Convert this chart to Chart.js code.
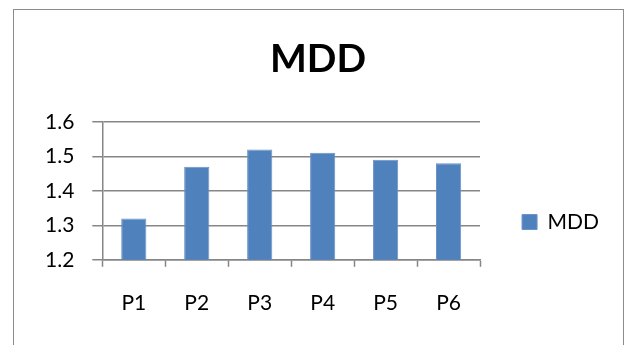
<!DOCTYPE html>
<html>
<head>
<meta charset="utf-8">
<script src="https://cdn.jsdelivr.net/npm/chart.js@4"></script>
<style>
    html, body { margin: 0; padding: 0; background: #fff; }
    body { width: 626px; height: 345px; overflow: hidden; position: relative; }
    #frame {
        position: absolute; left: 13px; top: 9px;
        width: 611px; height: 360px;
        border: 1px solid #8c8c8c; box-sizing: border-box;
    }
    #wrap { position: absolute; left: 14px; top: 10px; width: 609px; height: 335px; }
</style>
</head>
<body>
<div id="frame"></div>
<div id="wrap"><canvas id="mddChart"></canvas></div>
<script>
// Chart data
const categories = ['P1', 'P2', 'P3', 'P4', 'P5', 'P6'];
const mddValues = [1.32, 1.47, 1.52, 1.51, 1.49, 1.48];
const yTicks = [1.2, 1.3, 1.4, 1.5, 1.6];

const gridColor = '#868686';
const fontFamily = 'Lato, "Open Sans", sans-serif';

// Move the legend down so it sits where Excel puts it
const legendShift = {
    id: 'legendShift',
    afterLayout(chart) {
        const legend = chart.legend;
        if (legend) {
            legend.top += 47;
            legend.bottom += 47;
        }
    }
};

function initChart() {
    const ctx = document.getElementById('mddChart').getContext('2d');
    new Chart(ctx, {
        type: 'bar',
        data: {
            labels: categories,
            datasets: [{
                label: 'MDD',
                data: mddValues,
                backgroundColor: '#4F81BD',
                borderColor: '#6a93c6',
                borderWidth: 1,
                categoryPercentage: 1,
                barPercentage: 0.4
            }]
        },
        plugins: [legendShift],
        options: {
            responsive: true,
            maintainAspectRatio: false,
            animation: false,
            layout: {
                padding: { left: 13, right: 14, top: 0, bottom: 5 }
            },
            plugins: {
                title: {
                    display: true,
                    text: 'MDD',
                    color: '#000',
                    font: { family: fontFamily, size: 39, weight: 'bold' },
                    padding: { top: 26, bottom: 39 }
                },
                legend: {
                    position: 'right',
                    labels: {
                        color: '#000',
                        font: { family: fontFamily, size: 21 },
                        boxWidth: 15,
                        boxHeight: 15,
                        padding: 42
                    }
                },
                tooltip: { enabled: false }
            },
            scales: {
                x: {
                    grid: {
                        drawOnChartArea: false,
                        drawTicks: true,
                        tickLength: 7,
                        tickWidth: 1.5,
                        color: gridColor,
                        offset: true
                    },
                    border: { color: gridColor, width: 1.5 },
                    ticks: {
                        color: '#000',
                        font: { family: fontFamily, size: 21 },
                        padding: 24
                    }
                },
                y: {
                    min: yTicks[0],
                    max: yTicks[yTicks.length - 1],
                    afterBuildTicks: axis => {
                        axis.ticks = yTicks.map(v => ({ value: v }));
                    },
                    grid: {
                        color: gridColor,
                        lineWidth: 1.5,
                        tickLength: 10
                    },
                    border: { color: gridColor, width: 1.5 },
                    ticks: {
                        color: '#000',
                        font: { family: fontFamily, size: 21 },
                        padding: 18,
                        callback: value => value.toFixed(1)
                    }
                }
            }
        }
    });
}

document.addEventListener('DOMContentLoaded', initChart);
</script>
</body>
</html>
